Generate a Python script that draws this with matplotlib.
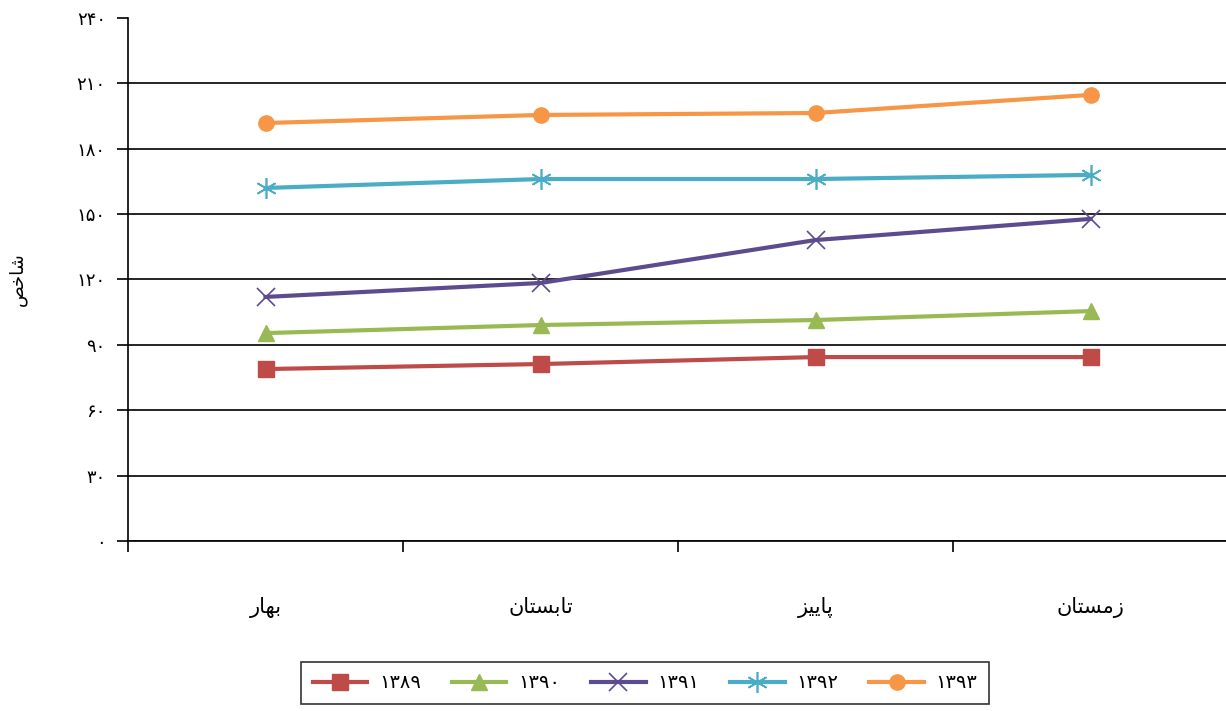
import matplotlib
matplotlib.use("Agg")
from matplotlib import pyplot as plt

# seasons and yearly series (index values)
seasons = ["بهار", "تابستان", "پاییز", "زمستان"]
years = ["۱۳۸۹", "۱۳۹۰", "۱۳۹۱", "۱۳۹۲", "۱۳۹۳"]
v1389 = [78.9, 81.2, 84.4, 84.4]
v1390 = [95.4, 99.1, 101.4, 105.5]
v1391 = [112.0, 118.4, 138.1, 147.8]
v1392 = [162.0, 166.1, 166.1, 168.0]
v1393 = [191.8, 195.5, 196.4, 204.7]
y_ticks = [0, 30, 60, 90, 120, 150, 180, 210, 240]
y_label = "شاخص"

# minimal Persian shaping: (isolated, final, initial, medial); 2-tuple = joins right only
FORMS = {
    "ا": (0xFE8D, 0xFE8E), "ر": (0xFEAD, 0xFEAE), "ز": (0xFEAF, 0xFEB0),
    "ب": (0xFE8F, 0xFE90, 0xFE91, 0xFE92), "پ": (0xFB56, 0xFB57, 0xFB58, 0xFB59),
    "ت": (0xFE95, 0xFE96, 0xFE97, 0xFE98), "خ": (0xFEA5, 0xFEA6, 0xFEA7, 0xFEA8),
    "س": (0xFEB1, 0xFEB2, 0xFEB3, 0xFEB4), "ش": (0xFEB5, 0xFEB6, 0xFEB7, 0xFEB8),
    "ص": (0xFEB9, 0xFEBA, 0xFEBB, 0xFEBC), "م": (0xFEE1, 0xFEE2, 0xFEE3, 0xFEE4),
    "ن": (0xFEE5, 0xFEE6, 0xFEE7, 0xFEE8), "ه": (0xFEE9, 0xFEEA, 0xFEEB, 0xFEEC),
    "ی": (0xFBFC, 0xFBFD, 0xFBFE, 0xFBFF),
}


def shape(word):
    out = []
    for i, ch in enumerate(word):
        f = FORMS.get(ch)
        if f is None:
            out.append(ch)
            continue
        prev = word[i - 1] if i > 0 else None
        nxt = word[i + 1] if i + 1 < len(word) else None
        join_prev = prev in FORMS and len(FORMS[prev]) == 4
        join_next = len(f) == 4 and nxt in FORMS
        if join_prev and join_next:
            code = f[3]
        elif join_next:
            code = f[2]
        elif join_prev:
            code = f[1]
        else:
            code = f[0]
        out.append(chr(code))
    return "".join(reversed(out))


def fa_digits(n):
    return "".join("۰۱۲۳۴۵۶۷۸۹"[int(c)] for c in str(n))


plt.rcParams["font.family"] = ["DejaVu Sans"]

fig = plt.figure(figsize=(12.26, 7.11), dpi=100)
ax = fig.add_axes([128 / 1226, 0.2391, 1100 / 1226, 0.7356])

x = list(range(len(seasons)))
series = [v1389, v1390, v1391, v1392, v1393]
colors = ["#BE4B48", "#98B954", "#5E4B8F", "#4AACC5", "#F79646"]
markers = ["s", "^", "x", (6, 2, 0), "o"]
msizes = [11, 11, 13, 15, 11]
for vals, name, c, m, ms in zip(series, years, colors, markers, msizes):
    ax.plot(x, vals, color=c, lw=3, marker=m, markersize=ms,
            markeredgewidth=1.2 if m in ("x", (6, 2, 0)) else 1,
            markeredgecolor=c, label=name)

ax.set_xlim(-0.5, 3.5)
ax.set_ylim(0, 240)
ax.set_yticks(y_ticks)
ax.set_yticklabels([fa_digits(v) for v in y_ticks], fontsize=13)
ax.set_xticks(x)
ax.set_xticklabels([shape(s) for s in seasons], fontsize=15)
ax.set_xticks([-0.5, 0.5, 1.5, 2.5], minor=True)
ax.tick_params(axis="x", which="major", length=0, pad=40)
ax.tick_params(axis="x", which="minor", length=8, width=1.2, direction="out")
ax.tick_params(axis="y", length=8, width=1.2, direction="out", pad=8)

ax.grid(axis="y", color="black", lw=1.2)
ax.get_ygridlines()[-1].set_visible(False)
ax.set_axisbelow(True)
for side in ("top", "right"):
    ax.spines[side].set_visible(False)
for side in ("left", "bottom"):
    ax.spines[side].set_linewidth(1.2)

ax.set_ylabel(shape(y_label), fontsize=13, labelpad=36)

leg = fig.legend(loc="center", bbox_to_anchor=(645 / 1226, 1 - 683 / 711),
                 ncol=5, frameon=True, fancybox=False, fontsize=14,
                 handlelength=2.8, columnspacing=1.6, handletextpad=0.6,
                 borderpad=0.6)
leg.get_frame().set_edgecolor("black")
leg.get_frame().set_linewidth(1.2)

fig.savefig("out.png", dpi=100)
